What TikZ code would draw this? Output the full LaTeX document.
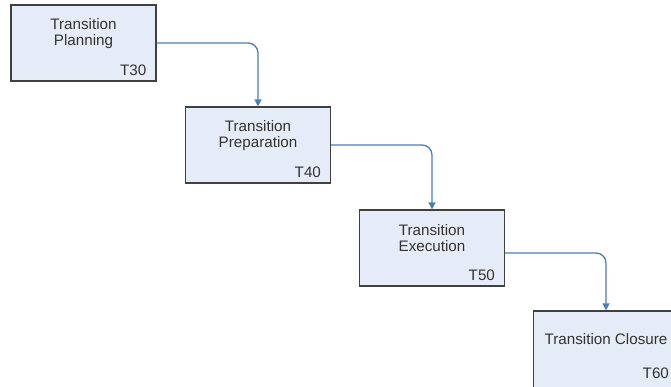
\documentclass[tikz,border=0pt]{standalone}
\usepackage{fontspec}
\setmainfont{Liberation Sans}
\usepackage{xcolor}
\usepackage{tikz}
\usetikzlibrary{arrows.meta}
\definecolor{phasefill}{HTML}{E6ECF7}
\definecolor{phaseline}{HTML}{404040}
\definecolor{phasetext}{HTML}{333333}
\definecolor{flowblue}{HTML}{4A7EBB}

\begin{document}
\begin{tikzpicture}[x=1pt, y=-1pt,
  phase/.style={rectangle, draw=phaseline, fill=phasefill, line width=1.2pt,
    minimum width=145pt, minimum height=76pt, inner sep=0pt},
  title/.style={align=center, text=phasetext, inner sep=0pt,
    font=\fontsize{15.2}{16}\selectfont},
  code/.style={anchor=base east, text=phasetext, inner sep=0pt,
    font=\fontsize{15.2}{16}\selectfont},
  link/.style={draw=flowblue, line width=1.3pt, rounded corners=10pt,
    -{Triangle[length=7pt,width=7pt]}}
]
\useasboundingbox (0,0) rectangle (671,387);
\clip (0,0) rectangle (671,387);
\fill[white] (0,0) rectangle (671,387);

\node[phase] (b1) at (83.5,43) {};
\node[phase] (b2) at (258,145) {};
\node[phase] (b3) at (432,248) {};
\node[phase, minimum height=82pt] (b4) at (606,352) {};

\node[title] (t1) at ([yshift=-29pt]b1.north) {Transition\\Planning};
\node[title] (t2) at ([yshift=-29pt]b2.north) {Transition\\Preparation};
\node[title] (t3) at ([yshift=-29pt]b3.north) {Transition\\Execution};
\node[title] (t4) at ([yshift=-29pt]b4.north) {Transition Closure};

\node[code] (c1) at ([xshift=-10pt,yshift=6pt]b1.south east) {T30};
\node[code] (c2) at ([xshift=-10pt,yshift=6pt]b2.south east) {T40};
\node[code] (c3) at ([xshift=-10pt,yshift=6pt]b3.south east) {T50};
\node[code] (c4) at ([xshift=-10pt,yshift=15pt]b4.south east) {T60};

\draw[link] (b1.east) -| (b2.north);
\draw[link] (b2.east) -| (b3.north);
\draw[link] ([yshift=-5pt]b3.east) -| (b4.north);
\end{tikzpicture}
\end{document}
